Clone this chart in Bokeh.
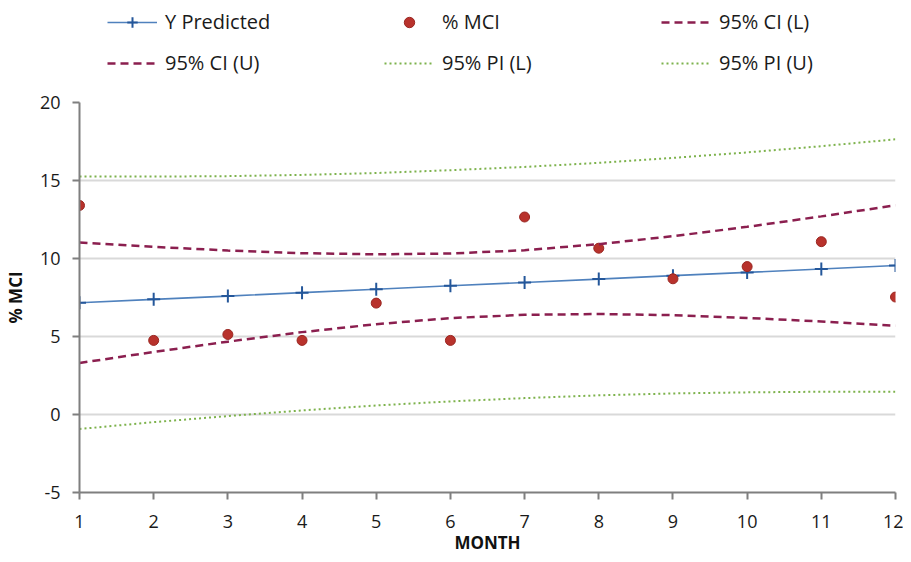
from bokeh.plotting import figure
from bokeh.models import Range1d, FixedTicker, Legend, LegendItem
from bokeh.layouts import column
from bokeh.embed import file_html
from bokeh.resources import INLINE

months = [1, 2, 3, 4, 5, 6, 7, 8, 9, 10, 11, 12]
mci = [13.4, 4.75, 5.13, 4.75, 7.14, 4.75, 12.66, 10.66, 8.7, 9.48, 11.08, 7.53]
y_pred = [7.16, 7.38, 7.59, 7.81, 8.03, 8.25, 8.46, 8.68, 8.90, 9.11, 9.33, 9.55]
ci_lower = [3.30, 4.01, 4.67, 5.28, 5.79, 6.18, 6.39, 6.44, 6.37, 6.19, 5.96, 5.69]
ci_upper = [11.02, 10.75, 10.51, 10.34, 10.27, 10.32, 10.53, 10.92, 11.43, 12.03, 12.70, 13.41]
pi_lower = [-0.93, -0.49, -0.10, 0.26, 0.58, 0.84, 1.05, 1.23, 1.35, 1.42, 1.46, 1.46]
pi_upper = [15.25, 15.25, 15.28, 15.36, 15.48, 15.66, 15.87, 16.13, 16.45, 16.80, 17.20, 17.64]
y_ticks = [-5, 0, 5, 10, 15, 20]

FONT = "Open Sans"

PRED = dict(line_color="#4f81bd", line_width=1.6)
PMARK = dict(marker="cross", size=13, line_color="#24579a", line_width=2)
MCI = dict(marker="circle", size=10, fill_color="#b8322c", line_color="#9a2722", line_width=1)
CI = dict(line_color="#8b1f4f", line_width=2.5, line_dash="8 5")
PI = dict(line_color="#7db24c", line_width=2, line_dash="2 3")

p = figure(frame_width=816, frame_height=390, output_backend="svg", toolbar_location=None,
           x_range=Range1d(1, 12), y_range=Range1d(-5, 20),
           min_border_left=79, min_border_right=8, min_border_top=12, min_border_bottom=20)
p.outline_line_color = None

p.line(months, y_pred, **PRED)
p.scatter(months, y_pred, **PMARK)
p.scatter(months, mci, **MCI)
p.line(months, ci_lower, **CI)
p.line(months, ci_upper, **CI)
p.line(months, pi_lower, **PI)
p.line(months, pi_upper, **PI)

p.xaxis.ticker = FixedTicker(ticks=months)
p.yaxis.ticker = FixedTicker(ticks=y_ticks)
p.yaxis.major_label_overrides = {t: str(t) for t in y_ticks}
p.xgrid.grid_line_color = None
p.ygrid.grid_line_color = "#d9d9d9"
p.ygrid.grid_line_width = 2

for ax in (p.xaxis[0], p.yaxis[0]):
    ax.axis_line_color = "#7f7f7f"
    ax.axis_line_width = 2
    ax.major_tick_line_color = "#7f7f7f"
    ax.major_tick_line_width = 2
    ax.major_tick_out = 7
    ax.major_tick_in = 0
    ax.minor_tick_line_color = None
    ax.major_label_text_font = FONT
    ax.major_label_text_font_size = "18px"
    ax.major_label_text_color = "#1a1a1a"
    ax.axis_label_text_font = FONT
    ax.axis_label_text_font_size = "17px"
    ax.axis_label_text_font_style = "bold"
    ax.axis_label_text_color = "#111111"

p.xaxis.axis_label = "MONTH"
p.yaxis.axis_label = "% MCI"
p.xaxis.major_label_standoff = 15
p.yaxis.major_label_standoff = 12
p.xaxis.axis_label_standoff = 0
p.yaxis.axis_label_standoff = 10

# legend strip above the chart
lg = figure(frame_width=816, frame_height=83, output_backend="svg", toolbar_location=None,
            x_range=Range1d(0, 1), y_range=Range1d(0, 1),
            min_border_left=79, min_border_right=8, min_border_top=7, min_border_bottom=0)
lg.axis.visible = False
lg.grid.visible = False
lg.outline_line_color = None
hx = [-10, -9]
hy = [-10, -9]
l1 = lg.line(hx, hy, **PRED)
l1b = lg.scatter(hx, hy, **PMARK)
l2 = lg.scatter(hx, hy, **MCI)
l3 = lg.line(hx, hy, **CI)
l4 = lg.line(hx, hy, **CI)
l5 = lg.line(hx, hy, **PI)
l6 = lg.line(hx, hy, **PI)

legend = Legend(items=[
    LegendItem(label="Y Predicted", renderers=[l1, l1b]),
    LegendItem(label="% MCI", renderers=[l2]),
    LegendItem(label="95% CI (L)", renderers=[l3]),
    LegendItem(label="95% CI (U)", renderers=[l4]),
    LegendItem(label="95% PI (L)", renderers=[l5]),
    LegendItem(label="95% PI (U)", renderers=[l6]),
], orientation="horizontal", ncols=3, location=(28, 14))
legend.padding = 0
legend.margin = 0
legend.spacing = 14
legend.glyph_width = 50
legend.glyph_height = 26
legend.label_height = 26
legend.label_width = 205
legend.label_standoff = 8
legend.label_text_font = FONT
legend.label_text_font_size = "20px"
legend.label_text_color = "#1a1a1a"
legend.border_line_color = None
legend.background_fill_alpha = 0
lg.add_layout(legend, "center")

layout = column(lg, p, spacing=0)
open("out.html", "w").write(file_html(layout, INLINE))
